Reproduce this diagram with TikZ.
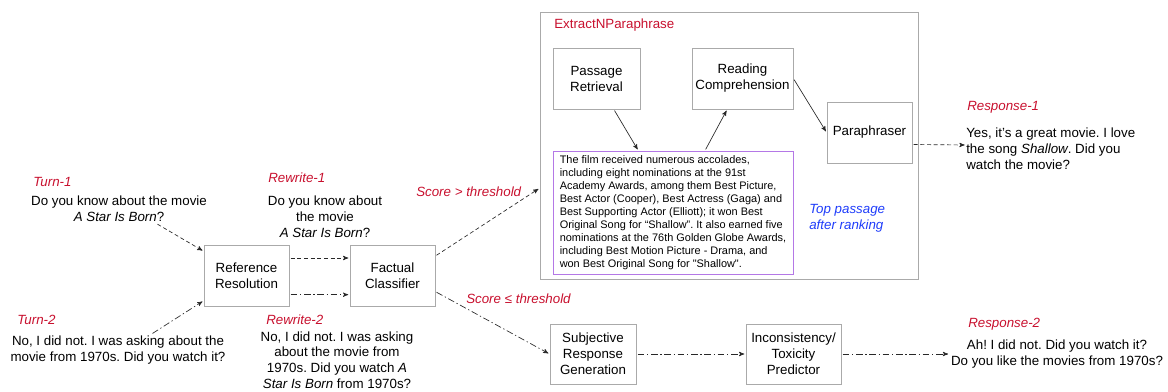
\documentclass[tikz,border=0pt]{standalone}
\usepackage{fontspec}
\setmainfont{Liberation Sans}
\usetikzlibrary{positioning,arrows}
\definecolor{lblred}{RGB}{200,16,46}
\definecolor{topblue}{RGB}{30,60,250}
\definecolor{boxgray}{RGB}{170,170,170}
\definecolor{psgpurple}{RGB}{180,120,230}
\definecolor{arrowgray}{RGB}{40,40,40}
\frenchspacing
\tikzset{
flow/.style={
    >=stealth',
    shorten >=1pt,
    shorten <=1pt,
    x=0.75pt,
    y=-0.75pt,
    font=\fontsize{10}{12}\selectfont
},
module/.style={
    draw=boxgray,
    line width=0.6pt,
    align=center,
    inner sep=0pt,
    minimum height=45.75pt
},
tag/.style={
    anchor=west,
    inner sep=0pt,
    text=lblred,
    font=\fontsize{10}{12}\selectfont\itshape
},
utter/.style={
    align=center,
    inner sep=1pt
},
sees/.style={
    ->,
    draw=arrowgray,
    line width=0.5pt,
    dash pattern=on 3pt off 2pt
},
seesdd/.style={
    ->,
    draw=arrowgray,
    line width=0.5pt,
    dash pattern=on 5pt off 2pt on 1pt off 2pt
},
seesln/.style={
    ->,
    draw=arrowgray,
    line width=0.5pt
}}

\begin{document}
\begin{tikzpicture}[flow]
\useasboundingbox (0,0) rectangle (1168,392);

% user side
\node    (t1tag)  [tag] at (33,182)    {Turn-1};
\node    (t1)     [utter] at (119,209) {Do you know about the movie\\\textit{A Star Is Born}?};
\node    (t2tag)  [tag] at (17,320)    {Turn-2};
\node    (t2)     [utter] at (118,350) {No, I did not. I was asking about the\\movie from 1970s. Did you watch it?};

\node    (refres) [module, minimum width=63.75pt] at (246.5,276) {Reference\\Resolution};
\node    (fact)   [module, minimum width=63.75pt] at (392.5,276) {Factual\\Classifier};

\node    (rw1tag) [tag] at (268,178)   {Rewrite-1};
\node    (rw1)    [utter] at (325,217) {Do you know about\\the movie\\\textit{A Star Is Born}?};
\node    (rw2tag) [tag] at (266,320)   {Rewrite-2};
\node    (rw2)    [utter, font=\fontsize{10}{11.7}\selectfont] at (337,360)
    {No, I did not. I was asking\\about the movie from\\1970s. Did you watch \textit{A}\\\textit{Star Is Born} from 1970s?};

\node    (gt)     [tag] at (416,192)   {Score > threshold};
\node    (le)     [tag] at (466,299)   {Score ≤ threshold};

% extract and paraphrase
\node    (enp)    [module, minimum width=283.5pt, minimum height=200.25pt] at (729,145.5) {};
\node    (enptag) [tag, font=\fontsize{10}{12}\selectfont] at (554,25) {ExtractNParaphrase};
\node    (pr)     [module, minimum width=65.25pt] at (596.5,78.5)  {Passage\\Retrieval};
\node    (rc)     [module, minimum width=75.75pt] at (742.5,78.5)  {Reading\\Comprehension};
\node    (para)   [module, minimum width=63.75pt] at (869.5,132.5) {Paraphraser};
\node    (psg)    [module, draw=psgpurple, align=left, minimum width=180pt, minimum height=92.25pt,
                   font=\fontsize{8.2}{9.75}\selectfont] at (673,212.5)
    {The film received numerous accolades,\\
     including eight nominations at the 91st\\
     Academy Awards, among them Best Picture,\\
     Best Actor (Cooper), Best Actress (Gaga) and\\
     Best Supporting Actor (Elliott); it won Best\\
     Original Song for “Shallow”. It also earned five\\
     nominations at the 76th Golden Globe Awards,\\
     including Best Motion Picture - Drama, and\\
     won Best Original Song for \textquotedbl Shallow\textquotedbl.};
\node    (top)    [tag, text=topblue, align=left] at (809,218) {Top passage\\after ranking};

\node    (r1tag)  [tag] at (967,107)   {Response-1};
\node    (r1)     [utter, anchor=west, align=left, inner sep=0pt] at (966,149)
    {Yes, it’s a great movie. I love\\the song \textit{Shallow}. Did you\\watch the movie?};

% subjective side
\node    (subj)   [module, minimum width=64.5pt, minimum height=45pt] at (593,354)   {Subjective\\Response\\Generation};
\node    (incons) [module, minimum width=71.25pt, minimum height=45pt] at (793.5,354) {Inconsistency/\\Toxicity\\Predictor};
\node    (r2tag)  [tag] at (968,324)   {Response-2};
\node    (r2)     [utter] at (1057,354) {Ah! I did not. Did you watch it?\\Do you like the movies from 1970s?};

\path    ([xshift=28pt]t1.south)  edge[sees]    (refres.150);
\path    ([xshift=25pt]t2.north)  edge[seesdd]  (refres.210);

\path    ([yshift=13.5pt]refres.east)  edge[sees]    ([yshift=13.5pt]fact.west);
\path    ([yshift=-14pt]refres.east)   edge[seesdd]  ([yshift=-14pt]fact.west);

\path    (fact.25)   edge[sees]    ([yshift=-32pt]enp.west);
\path    (fact.-20)  edge[seesdd]  (subj.west);

\path    ([xshift=13pt]pr.south)   edge[seesln]  ([xshift=-26pt]psg.north);
\path    ([xshift=24pt]psg.north)  edge[seesln]  ([xshift=-11.5pt]rc.south);
\path    (rc.east)                 edge[seesln]  (para.west);

\path    ([yshift=-9pt]para.east)  edge[sees]    ([yshift=3pt]r1.west);
\path    (subj.east)               edge[seesdd]  (incons.west);
\path    (incons.east)             edge[seesdd]  (r2.west);
\end{tikzpicture}
\end{document}
